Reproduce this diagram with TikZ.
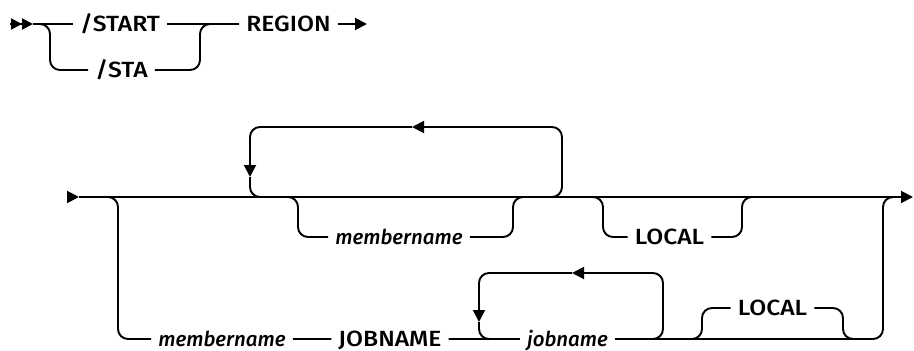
\documentclass[tikz,border=0pt]{standalone}
\usepackage{fontspec}
\setmainfont{Fira Sans Medium}[FakeStretch=1.12]
\newfontfamily\varfont{Fira Sans Medium}[ItalicFont={Fira Sans Medium Italic}]
\usetikzlibrary{arrows.meta,calc}
\tikzset{
  rail/.style={line width=1.9pt,rounded corners=10pt},
  kw/.style={inner xsep=7pt,inner ysep=0pt,text height=15pt,text depth=0pt,font=\fontsize{22}{26}\selectfont},
  var/.style={kw,font=\varfont\fontsize{20.5}{24}\selectfont\itshape},
  tip/.style={-{Triangle[length=12pt,width=12pt]}}
}

\begin{document}
\begin{tikzpicture}[x=1pt,y=-1pt]
  \useasboundingbox (0,0) rectangle (914,351);
  \coordinate (in0) at (10,24);
  \coordinate (a0) at (33,24);
  \coordinate (j1) at (50,24);
  \coordinate (j2) at (200,24);
  \coordinate (out0) at (367,24);
  \node[kw] (start) at (120,24) {/START};
  \node[kw] (sta) at (121.5,70) {/STA};
  \node[kw] (region) at (288.5,24) {REGION};
  \draw[line width=1.9pt,-{Triangle[length=11pt,width=11pt]Triangle[length=11pt,width=11pt]}] (in0) -- (a0);
  \draw[rail] (a0) -- (start) -- (region);
  \draw[rail] (a0) -- (j1) |- (sta) -| (j2) -- (region);
  \draw[rail,tip] (region) -- (out0);

  \coordinate (in1) at (67,197);
  \coordinate (a1) at (79,197);
  \coordinate (out1) at (913,197);
  \draw[line width=1.9pt,tip] (in1) -- (a1);
  \draw[rail,tip] (a1) -- (out1);

  \coordinate (lp1) at (250,197);
  \coordinate (lp2) at (250,127);
  \coordinate (lp3) at (562,127);
  \coordinate (lp4) at (562,197);
  \coordinate (lpa) at (412,127);
  \coordinate (lpb) at (250,177);
  \draw[rail,tip] ($(lp4)+(-12,0)$) -- (lp4) -- (lp3) -- (lpa);
  \draw[rail,tip] (lpa) -- (lp2) -- (lpb);
  \draw[rail] (lpb) -- (lp1) -- ++(12,0);

  \node[var] (mem1) at (399,237) {membername};
  \coordinate (m1a) at (298,197);
  \coordinate (m1b) at (513,197);
  \draw[rail] ($(m1a)+(-10,0)$) -- (m1a) |- (mem1) -| (m1b) -- ++(10,0);

  \node[kw] (local1) at (669.5,237) {LOCAL};
  \coordinate (l1a) at (603,197);
  \coordinate (l1b) at (742,197);
  \draw[rail] ($(l1a)+(-10,0)$) -- (l1a) |- (local1) -| (l1b) -- ++(10,0);

  \coordinate (b1) at (118,197);
  \coordinate (b2) at (883,197);
  \node[var] (mem2) at (222,339) {membername};
  \node[kw] (job) at (390,339) {JOBNAME};
  \node[var] (jobn) at (567.5,339) {jobname};
  \draw[rail] ($(b1)+(-10,0)$) -- (b1) |- (mem2) -- (job) -- (jobn) -| (b2) -- ++(10,0);

  \coordinate (jl1) at (479,339);
  \coordinate (jl2) at (479,273);
  \coordinate (jl3) at (663,273);
  \coordinate (jl4) at (663,339);
  \coordinate (jla) at (572,273);
  \coordinate (jlb) at (479,322);
  \draw[rail,tip] ($(jl4)+(-10,0)$) -- (jl4) -- (jl3) -- (jla);
  \draw[rail,tip] (jla) -- (jl2) -- (jlb);
  \draw[rail] (jlb) -- (jl1) -- ++(10,0);

  \node[kw] (local2) at (772.5,308) {LOCAL};
  \coordinate (l2a) at (702,339);
  \coordinate (l2b) at (843,339);
  \draw[rail] ($(l2a)+(-10,0)$) -- (l2a) |- (local2) -| (l2b) -- ++(10,0);
\end{tikzpicture}
\end{document}
